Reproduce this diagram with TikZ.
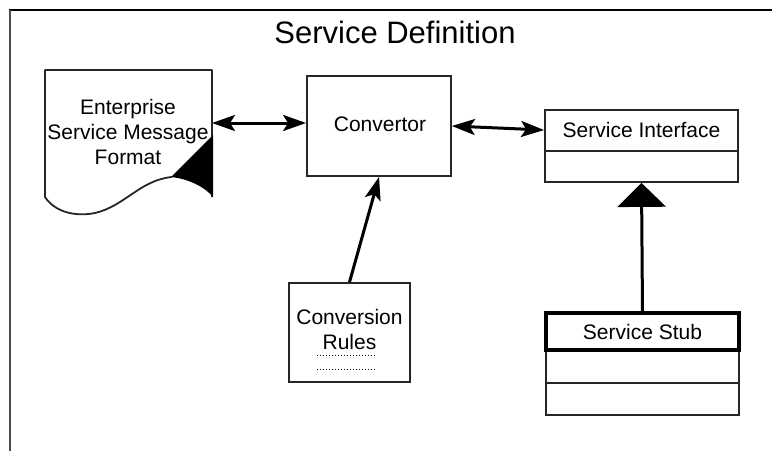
\documentclass[tikz,border=0pt]{standalone}
\usepackage{fontspec}
\setmainfont{Liberation Sans}
\usetikzlibrary{arrows.meta}
\begin{document}
\begin{tikzpicture}[x=1pt,y=-1pt,
  box/.style={draw=black!85,line width=1.8pt,inner sep=0pt,align=center,
    font=\fontsize{21}{25}\selectfont},
  link/.style={line width=3pt,draw=black},
  tip/.tip={Stealth[length=23pt,width=16pt,inset=5pt]},
  inherit/.style={-{Triangle[length=24pt,width=48pt]}}
]
\useasboundingbox (0,0) rectangle (772,451);

% frame
\draw[line width=2.5pt,black] (9,10) -- (772,10);
\draw[line width=2.5pt,black!70] (10,10) -- (10,451);

% title
\node (title) at (395,32) {\fontsize{31}{36}\selectfont Service Definition};

% document shape with curled corner
\draw[line width=1.8pt,black!85,line join=round]
  (212,197) -- (212,70) -- (45,70) -- (45,197)
  .. controls (55,212) and (75,217) .. (95,213)
  .. controls (125,206) and (140,180) .. (172,177);
\fill[black] (213,135) -- (171,177) .. controls (190,179) and (206,188) .. (213,197) -- cycle;
\node[align=center,font=\fontsize{21}{25}\selectfont] (doc) at (128,132)
  {Enterprise\\Service Message\\Format};
\coordinate (docR) at (212,123);

% convertor
\node[box,minimum width=144pt,minimum height=100pt] (cv) at (379,126) {};
\node[font=\fontsize{21}{25}\selectfont] (cvtext) at (380,124) {Convertor};

% conversion rules
\node[box,minimum width=121pt,minimum height=99pt] (rules) at (349.5,332.5) {};
\node[align=center,font=\fontsize{21}{25}\selectfont] (rulestext) at (349.5,329) {Conversion\\Rules};
\draw[line width=1pt,dotted] (317,355) -- (375,355);
\draw[line width=1pt,dotted] (317,369) -- (375,369);

% service interface
\node[box,minimum width=193pt,minimum height=72pt] (si) at (641.5,146) {};
\node[box,draw=none,minimum width=193pt,minimum height=40pt] (sihead) at (641.5,130) {Service Interface};
\draw[line width=1.8pt,black!85] (sihead.south west) -- (sihead.south east);

% service stub
\node[box,minimum width=193pt,minimum height=102pt] (stubbox) at (642.5,364) {};
\draw[line width=1.8pt,black!85] (546,383) -- (739,383);
\node[box,draw=black,line width=3.5pt,minimum width=193pt,minimum height=37pt] (stub) at (642.5,331.5) {Service Stub};

% connectors
\draw[link,tip-tip] (docR) -- (docR -| cv.west);
\draw[link,tip-tip] (cv.east) -- (sihead.west);
\draw[link,-tip] (rules.north) -- (cv.south);
\draw[link,inherit] (stub.north) -- (si.south);
\end{tikzpicture}
\end{document}
